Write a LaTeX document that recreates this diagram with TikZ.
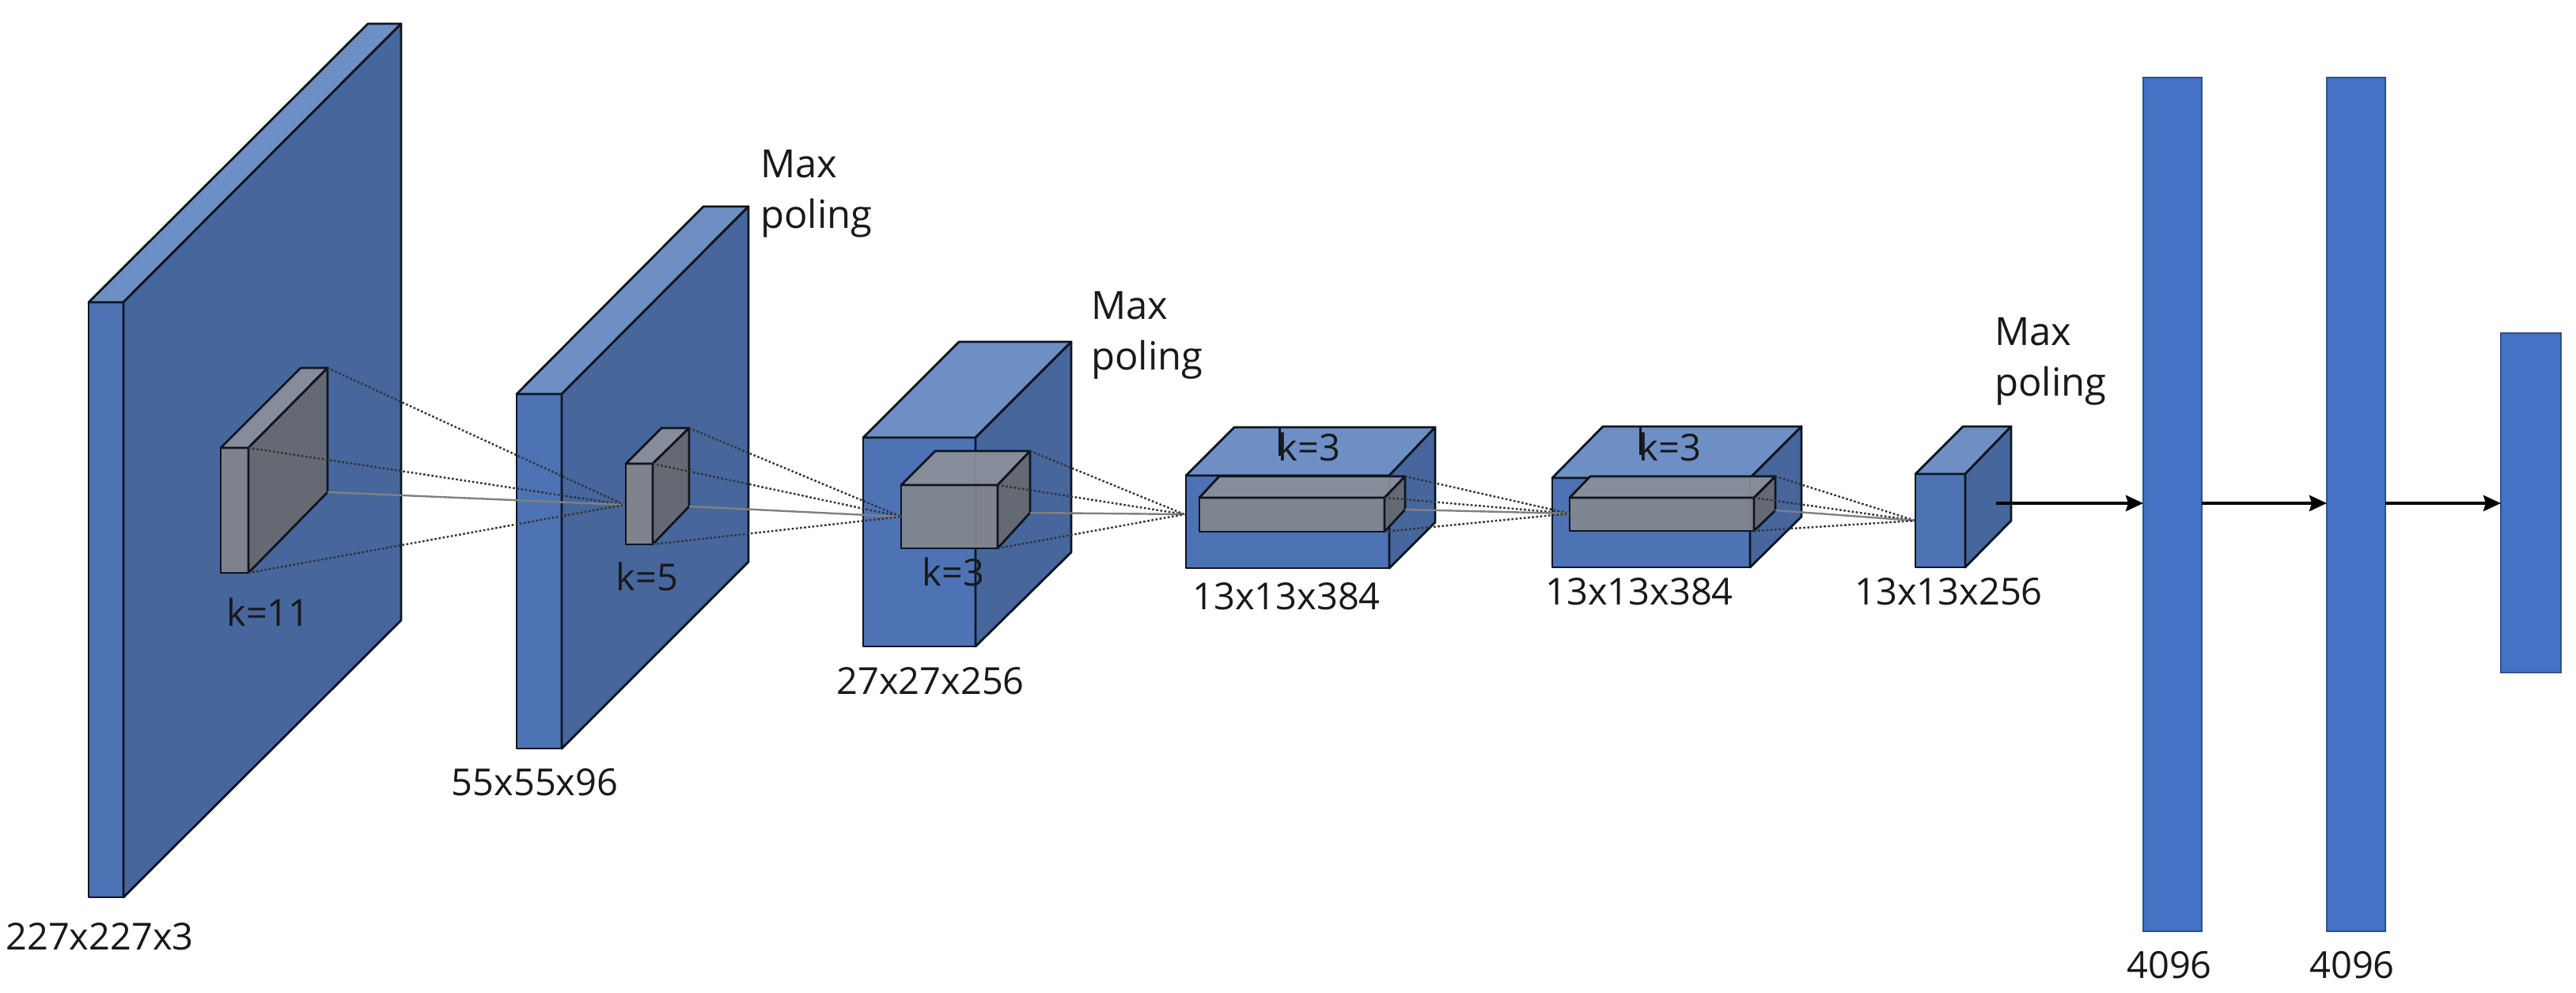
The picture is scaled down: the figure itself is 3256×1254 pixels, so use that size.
\documentclass[tikz,border=0pt]{standalone}
\usepackage{fontspec}
\setmainfont{Open Sans}
\usetikzlibrary{arrows.meta}
\definecolor{blkfront}{HTML}{4D73B5}
\definecolor{blktop}{HTML}{6D8FC4}
\definecolor{blkside}{HTML}{46669C}
\definecolor{gryfront}{HTML}{83878F}
\definecolor{grytop}{HTML}{8C909A}
\definecolor{gryside}{HTML}{686B73}
\definecolor{fcfill}{HTML}{4472C4}
\definecolor{fcedge}{HTML}{2F528F}
\definecolor{edge}{HTML}{0E1520}
\tikzset{
  shadowface/.style={fill=black,fill opacity=.09,draw=none},
  blkF/.style={fill=blkfront},
  blkT/.style={fill=blktop},
  blkS/.style={fill=blkside},
  gryF/.style={fill=gryfront,fill opacity=.93},
  gryT/.style={fill=grytop,fill opacity=.93},
  gryS/.style={fill=gryside,fill opacity=.93},
  face/.style={draw=edge,line width=2.8pt,line join=round},
  fcbar/.style={draw=fcedge,line width=2pt,fill=fcfill,inner sep=0pt,outer sep=0pt},
  lbl/.style={inner sep=0pt,outer sep=0pt,anchor=base,text=black!90,font=\fontsize{47}{50}\selectfont},
  pool/.style={inner sep=0pt,outer sep=0pt,anchor=base west,align=left,text=black!90,font=\fontsize{49}{64}\selectfont},
  dotline/.style={draw=black!80,line width=2.4pt,dash pattern=on 2.6pt off 2.6pt},
  solidline/.style={draw=black!50,line width=2.4pt},
  flow/.style={draw=black,line width=4pt,-{Stealth[length=22pt,width=20pt,inset=3pt]}},
  ticklet/.style={draw=edge,line width=3pt},
}
% name, colour prefix, front top-left, front bottom-right, back top-left, back bottom-right
\newcommand\cuboid[6]{%
  \coordinate (#1-fa) at #3;
  \coordinate (#1-fc) at #4;
  \coordinate (#1-ba) at #5;
  \coordinate (#1-bc) at #6;
  \coordinate (#1-ftr) at (#1-fc |- #1-fa);
  \coordinate (#1-btr) at (#1-bc |- #1-ba);
  \coordinate (#1-fbl) at (#1-fa |- #1-fc);
  \path[shadowface,shift={(2pt,-6pt)}] (#1-fa) -- (#1-fbl) -- (#1-fc) -- (#1-bc) -- (#1-btr) -- (#1-ba) -- cycle;
  \path[face,#2F] (#1-fa) rectangle (#1-fc);
  \path[face,#2T] (#1-fa) -- (#1-ba) -- (#1-btr) -- (#1-ftr) -- cycle;
  \path[face,#2S] (#1-ftr) -- (#1-btr) -- (#1-bc) -- (#1-fc) -- cycle;
}
\newcommand\fan[2]{%
  \draw[dotline] (#1-btr) -- (#2);
  \draw[dotline] (#1-ftr) -- (#2);
  \draw[solidline] (#1-bc) -- (#2);
  \draw[dotline] (#1-fc) -- (#2);
}
\begin{document}
\begin{tikzpicture}[x=1pt,y=-1pt]
\useasboundingbox (0,0) rectangle (3256,1254);
\fill[white] (0,0) rectangle (3256,1254);

\cuboid{b1}{blk}{(112,382)}{(156,1134)}{(465,30)}{(507,784)}
\cuboid{g1}{gry}{(279,566)}{(314,724)}{(380,465)}{(414,622)}

\cuboid{b2}{blk}{(653,498)}{(710,946)}{(889,261)}{(946,710)}
\cuboid{g2}{gry}{(791,586)}{(825,688)}{(836,541)}{(871,640)}

\cuboid{b3}{blk}{(1091,553)}{(1233,817)}{(1212,432)}{(1354,698)}
\cuboid{g3}{gry}{(1139,613)}{(1261,693)}{(1182,570)}{(1302,648)}

\cuboid{b4}{blk}{(1499,601)}{(1756,718)}{(1560,540)}{(1814,660)}
\cuboid{g4}{gry}{(1516,629)}{(1750,672)}{(1541,602)}{(1776,644)}

\cuboid{b5}{blk}{(1962,604)}{(2212,717)}{(2026,539)}{(2277,653)}
\cuboid{g5}{gry}{(1984,629)}{(2217,671)}{(2010,602)}{(2244,645)}

\cuboid{b6}{blk}{(2421,599)}{(2484,717)}{(2481,539)}{(2542,658)}

\coordinate (c1) at (789,638);
\coordinate (c2) at (1139,653);
\coordinate (c3) at (1497,650);
\coordinate (c4) at (1984,649);
\coordinate (c5) at (2421,658);
\fan{g1}{c1}
\fan{g2}{c2}
\fan{g3}{c3}
\fan{g4}{c4}
\fan{g5}{c5}

\node[fcbar,anchor=north west,minimum width=74pt,minimum height=1079pt] (fc1) at (2709,98) {};
\node[fcbar,anchor=north west,minimum width=74pt,minimum height=1079pt] (fc2) at (2941,98) {};
\node[fcbar,anchor=north west,minimum width=76pt,minimum height=429pt] (fc3) at (3161,421) {};

\coordinate (a0) at (2523,636);
\draw[flow] (a0) -- (a0 -| fc1.west);
\coordinate (a1) at (fc1.east |- a0);
\draw[flow] (a1) -- (a1 -| fc2.west);
\coordinate (a2) at (fc2.east |- a0);
\draw[flow] (a2) -- (a2 -| fc3.west);

\node[lbl] (t1) at (126,1200) {227x227x3};
\node[lbl] (t2) at (676,1005) {55x55x96};
\node[lbl] (t3) at (1176,877) {27x27x256};
\node[lbl] (t4) at (1626,770) {13x13x384};
\node[lbl] (t5) at (2072,764) {13x13x384};
\node[lbl] (t6) at (2463,764) {13x13x256};
\node[lbl] (t7) at (2742,1236) {4096};
\node[lbl] (t8) at (2973,1236) {4096};
\node[lbl] (k1) at (339,791) {k=11};
\node[lbl] (k2) at (818,746) {k=5};
\node[lbl] (k3) at (1205,740) {k=3};
\node[lbl] (k4) at (1655,582) {k=3};
\node[lbl] (k5) at (2111,582) {k=3};
\node[pool] (m1) at (961,288) {Max\\poling};
\node[pool] (m2) at (1379,467) {Max\\poling};
\node[pool] (m3) at (2521,500) {Max\\poling};

\draw[ticklet] (k4.base west |- b4-ba) ++(2pt,0) -- ++(0,-36pt);
\draw[ticklet] (k5.base west |- b5-ba) ++(2pt,0) -- ++(0,-36pt);
\end{tikzpicture}
\end{document}
